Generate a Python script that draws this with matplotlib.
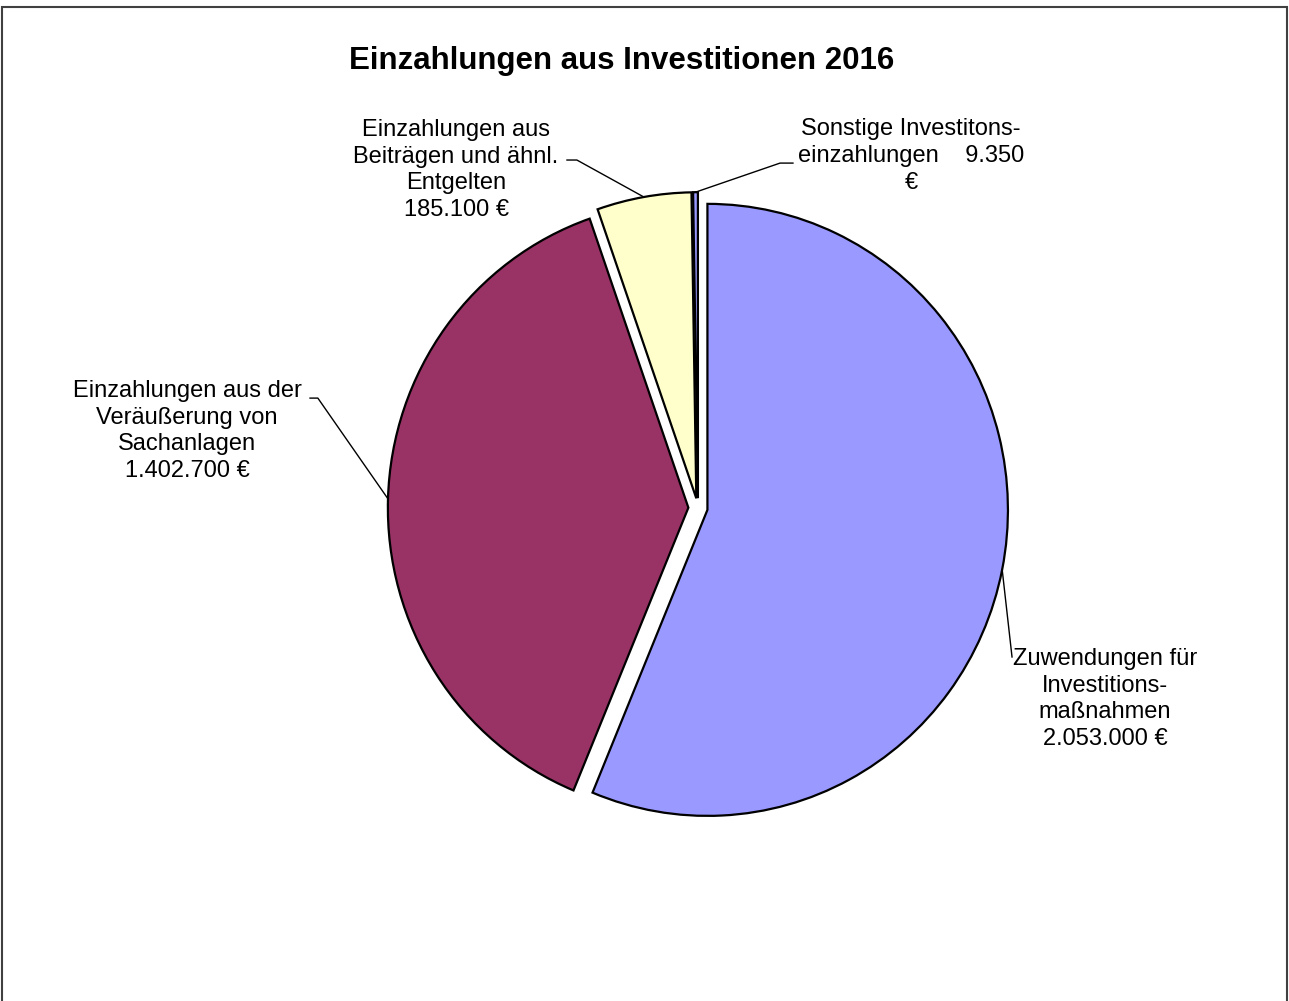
import matplotlib.pyplot as plt
import numpy as np
from matplotlib.patches import Rectangle

plt.rcParams['font.family'] = ['Liberation Sans', 'DejaVu Sans']

# Daten
labels = ["Zuwendungen für\nInvestitions-\nmaßnahmen",
          "Einzahlungen aus der\nVeräußerung von\nSachanlagen",
          "Einzahlungen aus\nBeiträgen und ähnl.\nEntgelten",
          "Sonstige Investitons-\neinzahlungen    9.350\n€"]
werte = [2053000, 1402700, 185100, 9350]
farben = ["#9999FF", "#993366", "#FFFFCC", "#9999FF"]
wert_texte = ["2.053.000 €", "1.402.700 €", "185.100 €", None]

# Position der Beschriftungen (Datenkoordinaten) und Knick der Linie
text_pos = [(1.354, -0.624), (-1.700, 0.252), (-0.805, 1.105), (0.709, 1.150)]
knick = [[(1.045, -0.487)],
         [(-1.265, 0.359), (-1.291, 0.359)],
         [(-0.403, 1.137), (-0.436, 1.137)],
         [(0.273, 1.127), (0.316, 1.127)]]

fig = plt.figure(figsize=(12.89, 10.01), dpi=100)
fig.add_artist(Rectangle((2 / 1289, -0.05), 1285 / 1289, 1 - 7 / 1001 + 0.05,
                         transform=fig.transFigure, fill=False,
                         ec='#404040', lw=1.5))

ax = fig.add_axes([0.1918, 0.0340, 0.6994, 0.9171])
ex = 0.032
wedges, _ = ax.pie(werte, colors=farben, startangle=90, counterclock=False,
                   explode=[ex] * len(werte),
                   wedgeprops=dict(edgecolor='black', linewidth=1.6))
ax.set_aspect('auto')
ax.set_xlim(-1.5, 1.5)
ax.set_ylim(-1.5, 1.5)
ax.axis('off')

for i, w in enumerate(wedges):
    # Führungslinie vom Bogenmittelpunkt zur Beschriftung
    mid = np.deg2rad((w.theta1 + w.theta2) / 2)
    cx, cy = w.center
    pts = [(cx + np.cos(mid), cy + np.sin(mid))] + knick[i]
    ax.plot([p[0] for p in pts], [p[1] for p in pts], color='black', lw=1.0)
    txt = labels[i] if wert_texte[i] is None else labels[i] + "\n" + wert_texte[i]
    ax.text(text_pos[i][0], text_pos[i][1], txt, ha='center', va='center',
            fontsize=17, linespacing=1.27)

fig.text(622 / 1289, 1 - 61 / 1001, "Einzahlungen aus Investitionen 2016",
         ha='center', va='center', fontsize=22.5, fontweight='bold')

fig.savefig("out.png", dpi=100)
